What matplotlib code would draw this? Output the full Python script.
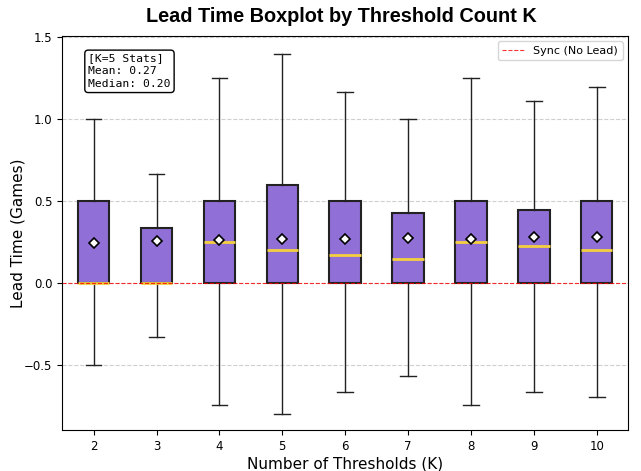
import matplotlib
matplotlib.use('Agg')
import matplotlib.pyplot as plt

# datos
ks = [2, 3, 4, 5, 6, 7, 8, 9, 10]
q1 = [0, 0, 0, 0, 0, 0, 0, 0, 0]
q3 = [0.5, 0.333, 0.5, 0.6, 0.5, 0.429, 0.5, 0.444, 0.5]
medians = [0, 0, 0.25, 0.2, 0.167, 0.143, 0.25, 0.222, 0.2]
means = [0.243, 0.253, 0.26, 0.27, 0.27, 0.273, 0.265, 0.278, 0.28]
whislo = [-0.5, -0.333, -0.75, -0.8, -0.667, -0.571, -0.75, -0.667, -0.7]
whishi = [1.0, 0.667, 1.25, 1.4, 1.167, 1.0, 1.25, 1.111, 1.2]


def main():
    stats = []
    for i in range(len(ks)):
        stats.append({'med': medians[i], 'q1': q1[i], 'q3': q3[i],
                      'whislo': whislo[i], 'whishi': whishi[i],
                      'mean': means[i], 'fliers': [], 'label': str(ks[i])})

    fig = plt.figure(figsize=(6.41, 4.71), dpi=100)
    ax = fig.add_axes([0.097, 0.087, 0.883, 0.837])

    ax.bxp(stats, positions=ks, widths=0.5, patch_artist=True, showmeans=True,
           boxprops=dict(facecolor='#9070D6', edgecolor='#222222', linewidth=1.5),
           medianprops=dict(color='#F4D03F', linewidth=2),
           whiskerprops=dict(color='#222222', linewidth=1),
           capprops=dict(color='#222222', linewidth=1),
           meanprops=dict(marker='D', markerfacecolor='white', markeredgecolor='black',
                          markersize=5.5, markeredgewidth=1.2))

    ax.axhline(0, color='red', linestyle='--', linewidth=0.8, alpha=0.8,
               label='Sync (No Lead)', zorder=2.5)
    ax.yaxis.grid(True, linestyle='--', alpha=0.6)
    ax.set_axisbelow(True)

    ax.set_xlim(1.5, 10.5)
    ax.set_ylim(-0.9, 1.51)
    ax.set_yticks([-0.5, 0.0, 0.5, 1.0, 1.5])
    ax.tick_params(labelsize=8.5)

    ax.set_xlabel('Number of Thresholds (K)', fontsize=11, labelpad=3)
    ax.set_ylabel('Lead Time (Games)', fontsize=11, labelpad=-1)
    fig.suptitle('Lead Time Boxplot by Threshold Count K', x=0.532, y=0.985,
                 fontsize=14.3, fontweight='heavy', family='Liberation Sans')

    ax.legend(loc='upper right', fontsize=8)

    k5 = ks.index(5)
    txt = f'[K=5 Stats]\nMean: {means[k5]:.2f}\nMedian: {medians[k5]:.2f}'
    ax.text(0.046, 0.955, txt, transform=ax.transAxes, fontsize=8.2,
            family='monospace', va='top', linespacing=1.35,
            bbox=dict(boxstyle='round', facecolor='white', edgecolor='black'))

    fig.savefig('out.png', dpi=100)
    plt.close(fig)


if __name__ == '__main__':
    main()
